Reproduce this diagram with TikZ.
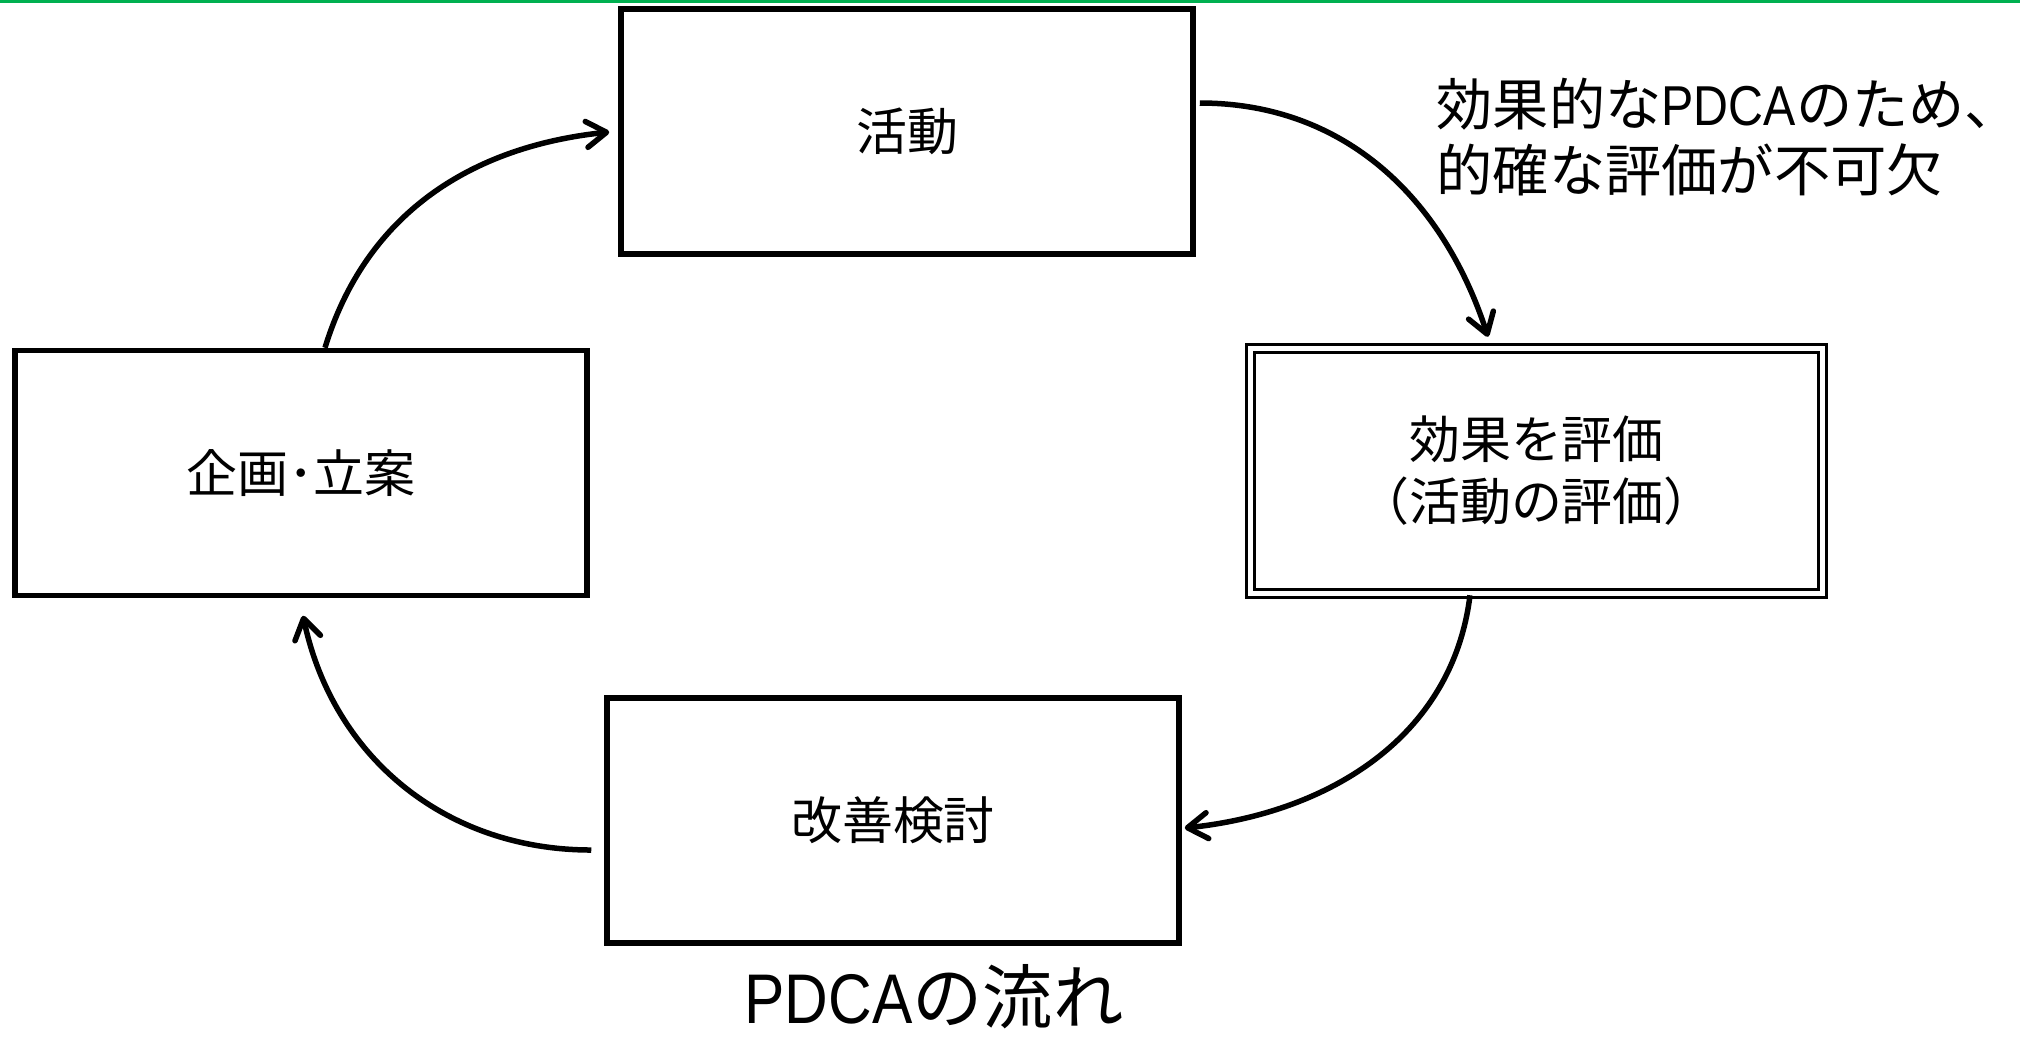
\documentclass[tikz,border=0pt]{standalone}
\usepackage{fontspec}
\setmainfont{Noto Sans CJK JP}
\newfontfamily\lat[FakeStretch=0.86]{Liberation Sans}
\usetikzlibrary{arrows.meta}
\definecolor{topgreen}{RGB}{0,176,80}
\begin{document}
\begin{tikzpicture}[
  box/.style={draw=black, line width=0.055cm, minimum width=5.72cm, minimum height=2.45cm, inner sep=0pt, align=center, font=\fontsize{14.5pt}{17.6pt}\selectfont},
  dbox/.style={box, line width=0.035cm, double=white, double distance=0.045cm},
  arr/.style={line width=0.055cm, -{Straight Barb[length=0.2cm,width=0.26cm,round]}}
]
\useasboundingbox (0,0) rectangle (20.2,-10.38);
\fill[topgreen] (0,0) rectangle (20.2,-0.03);

\node[box] (katsudo) at (9.07,-1.315) {活動};
\node[box] (kikaku) at (3.01,-4.73) {企画･立案};
\node[dbox] (hyouka) at (15.365,-4.71) {効果を評価\\（活動の評価）};
\node[box] (kaizen) at (8.93,-8.205) {改善検討};

\node[anchor=west, align=left, inner sep=0pt, font=\fontsize{16pt}{19pt}\selectfont] (note) at (14.36,-1.37) {効果的な{\lat PDCA}のため、\\的確な評価が不可欠};
\node[inner sep=0pt, font=\fontsize{20pt}{23pt}\selectfont] (caption) at (9.34,-9.97) {{\lat PDCA}の流れ};

\draw[arr] ([shift={(0.04,0.285)}]katsudo.east) to[out=0,in=108] ([shift={(-0.485,0.1)}]hyouka.north);
\draw[arr] ([shift={(-0.665,0)}]hyouka.south) to[out=-97,in=6] ([shift={(0.03,-0.075)}]kaizen.east);
\draw[arr] ([shift={(-0.13,-0.295)}]kaizen.west) to[out=180,in=-78] ([shift={(0.02,-0.175)}]kikaku.south);
\draw[arr] ([shift={(0.24,0)}]kikaku.north) to[out=73,in=186] ([shift={(-0.09,-0.005)}]katsudo.west);
\end{tikzpicture}
\end{document}
